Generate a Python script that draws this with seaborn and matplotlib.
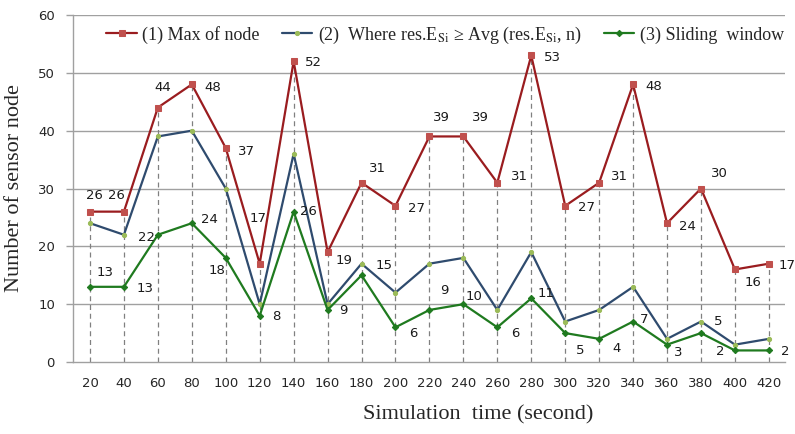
import matplotlib
matplotlib.use("Agg")
import matplotlib.pyplot as plt
import seaborn as sns
import pandas as pd

# ---- data ----
sim_time = [20, 40, 60, 80, 100, 120, 140, 160, 180, 200, 220,
            240, 260, 280, 300, 320, 340, 360, 380, 400, 420]
max_of_node = [26, 26, 44, 48, 37, 17, 52, 19, 31, 27, 39,
               39, 31, 53, 27, 31, 48, 24, 30, 16, 17]
where_avg = [24, 22, 39, 40, 30, 10, 36, 10, 17, 12, 17,
             18, 9, 19, 7, 9, 13, 4, 7, 3, 4]
sliding_window = [13, 13, 22, 24, 18, 8, 26, 9, 15, 6, 9,
                  10, 6, 11, 5, 4, 7, 3, 5, 2, 2]
series_names = ["(1) Max of node",
                r"(2)  Where res.E$_{\mathrm{Si}}$ ≥ Avg (res.E$_{\mathrm{Si}}$, n)",
                "(3) Sliding  window"]
y_ticks = [0, 10, 20, 30, 40, 50, 60]

# label offsets in pixels (style, not data)
red_off = [(4, 16), (-7, 16), (5, 20), (21, -3), (21, -3), (-2, 45), (20, -1),
           (16, -8), (16, 14), (21, -3), (12, 19), (17, 19), (22, 6), (21, -2),
           (21, -2), (20, 6), (21, -2), (20, -3), (18, 15), (18, -13), (18, -2)]
green_off = [(15, 14), (21, -2), (-11, -3), (18, 4), (-9, -13), (17, -1), (15, 0),
             (16, -1), (23, 10), (18, -6), (15, 19), (11, 8), (18, -6), (15, 5),
             (15, -17), (17, -10), (11, 2), (11, -8), (17, 12), (-15, -1), (16, -1)]

sns.set_theme(style="white")
plt.rcParams["font.family"] = ["DejaVu Sans"]
plt.rcParams["mathtext.fontset"] = "stix"

df = pd.DataFrame({"t": sim_time, "max": max_of_node,
                   "avg": where_avg, "win": sliding_window})

fig = plt.figure(figsize=(7.95, 4.34), dpi=100)
ax = fig.add_axes([73/795, 1-362/434, (785-73)/795, (362-15)/434])

# grid
for y in y_ticks[1:]:
    ax.axhline(y, color="#a0a0a0", lw=1.0, zorder=0)

# drop lines
ax.vlines(df["t"], 0, df["max"], colors="#808080", linestyles=(0, (4, 3)),
          lw=0.9, zorder=1)

sns.lineplot(data=df, x="t", y="max", ax=ax, color="#9a1c1f", lw=1.6,
             marker="s", markersize=5.0, markerfacecolor="#c0504d",
             markeredgecolor="#c0504d", label=series_names[0], zorder=4)
sns.lineplot(data=df, x="t", y="avg", ax=ax, color="#2f4b6e", lw=1.6,
             marker="o", markersize=3.0, markerfacecolor="#9bbb59",
             markeredgecolor="#9bbb59", label=series_names[1], zorder=3)
sns.lineplot(data=df, x="t", y="win", ax=ax, color="#1f7a1f", lw=1.6,
             marker="D", markersize=3.2, markerfacecolor="#1f7a1f",
             markeredgecolor="#1f7a1f", label=series_names[2], zorder=3)

for t, v, (dx, dy) in zip(sim_time, max_of_node, red_off):
    ax.annotate(str(v), (t, v), xytext=(dx, dy), textcoords="offset pixels",
                ha="center", va="center", fontsize=9.5, color="#1a1a1a", zorder=6)
for t, v, (dx, dy) in zip(sim_time, sliding_window, green_off):
    ax.annotate(str(v), (t, v), xytext=(dx, dy), textcoords="offset pixels",
                ha="center", va="center", fontsize=9.5, color="#1a1a1a", zorder=6)

ax.set_xlim(10, 429.5)
ax.set_ylim(0, 60)
ax.set_xticks(sim_time)
ax.set_xticklabels([str(t) for t in sim_time], fontsize=9.5)
ax.set_yticks(y_ticks)
ax.set_yticklabels([str(y) for y in y_ticks], fontsize=9.5)
ax.tick_params(axis="x", length=0, pad=11)
ax.tick_params(axis="y", length=5, width=1, color="#a0a0a0", pad=8, left=True)

for s in ["top", "right"]:
    ax.spines[s].set_visible(False)
ax.spines["left"].set_color("#a0a0a0")
ax.spines["bottom"].set_color("#a0a0a0")
ax.spines["left"].set_linewidth(1.0)
ax.spines["bottom"].set_linewidth(1.0)

ax.set_xlabel("Simulation  time (second)", family="Liberation Serif",
              fontsize=16)
ax.xaxis.set_label_coords((478 - 73) / 712, -(405 - 362) / 347)
ax.set_ylabel("Number of sensor node", family="Liberation Serif",
              fontsize=16, labelpad=10)

if ax.legend_:
    ax.legend_.remove()
h, l = ax.get_legend_handles_labels()
fig.legend(h, l, loc="center left", bbox_to_anchor=(90/795, 1-35/434),
           ncol=3, frameon=False, handlelength=1.7, handletextpad=0.3,
           columnspacing=1.2, prop={"family": "Liberation Serif", "size": 13})

fig.savefig("out.png", dpi=100)
